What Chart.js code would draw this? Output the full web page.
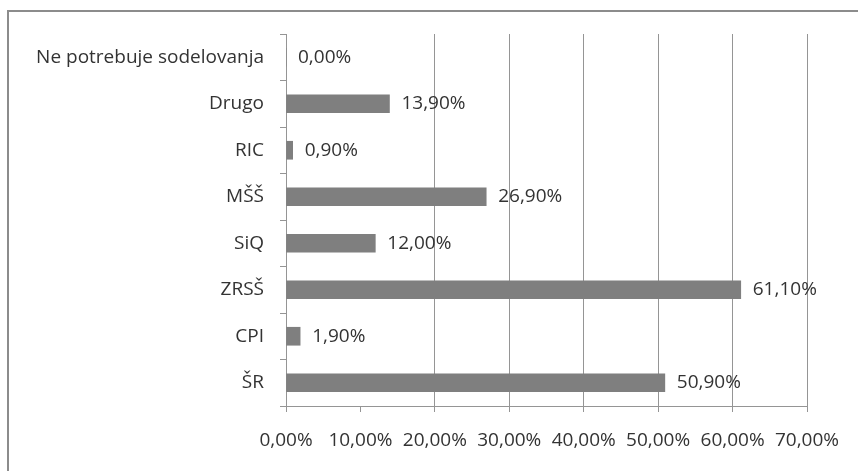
<!DOCTYPE html>
<html>
<head>
<meta charset="utf-8">
<script src="https://cdn.jsdelivr.net/npm/chart.js@4"></script>
<style>
  html, body { margin: 0; padding: 0; background: #ffffff; }
  #wrap { width: 858px; height: 471px; position: relative; }
</style>
</head>
<body>
<div id="wrap"><canvas id="c" width="858" height="471"></canvas></div>
<script>
const categories = ['Ne potrebuje sodelovanja', 'Drugo', 'RIC', 'MŠŠ', 'SiQ', 'ZRSŠ', 'CPI', 'ŠR'];
const values = [0, 13.9, 0.9, 26.9, 12.0, 61.1, 1.9, 50.9];
const xTickLabels = ['0,00%', '10,00%', '20,00%', '30,00%', '40,00%', '50,00%', '60,00%', '70,00%'];

const FONT = "'Open Sans', 'DejaVu Sans', sans-serif";
const TEXT = '#333333';
const LINE = '#959595';

function fmt(v) { return v.toFixed(2).replace('.', ',') + '%'; }

const frame = {
  id: 'frame',
  beforeDraw(chart) {
    const ctx = chart.ctx;
    ctx.save();
    ctx.strokeStyle = '#8c8c8c';
    ctx.lineWidth = 2;
    ctx.beginPath();
    ctx.moveTo(8, 471);
    ctx.lineTo(8, 11);
    ctx.lineTo(858, 11);
    ctx.stroke();
    ctx.restore();
  }
};

const valueLabels = {
  id: 'valueLabels',
  afterDatasetsDraw(chart) {
    const ctx = chart.ctx;
    const meta = chart.getDatasetMeta(0);
    ctx.save();
    ctx.font = '19px ' + FONT;
    ctx.fillStyle = TEXT;
    ctx.textAlign = 'left';
    ctx.textBaseline = 'middle';
    meta.data.forEach((bar, i) => {
      ctx.fillText(fmt(values[i]), bar.x + 12, bar.y);
    });
    ctx.restore();
  }
};

new Chart(document.getElementById('c'), {
  type: 'bar',
  data: {
    labels: categories,
    datasets: [{
      data: values,
      backgroundColor: '#7f7f7f',
      borderWidth: 0,
      barThickness: 18
    }]
  },
  options: {
    indexAxis: 'y',
    responsive: false,
    devicePixelRatio: 1,
    animation: false,
    layout: { padding: { left: 0, right: 51, top: 34, bottom: 0 } },
    plugins: { legend: { display: false }, tooltip: { enabled: false } },
    scales: {
      x: {
        min: 0, max: 70,
        ticks: {
          stepSize: 10,
          padding: 17,
          color: TEXT,
          font: { family: FONT, size: 19 },
          maxRotation: 0,
          callback: (v, i) => xTickLabels[i]
        },
        grid: {
          color: (c) => (c.tick && c.tick.value === 10) ? 'rgba(0,0,0,0)' : LINE,
          tickColor: LINE,
          tickLength: 6,
          lineWidth: 1
        },
        border: { display: true, color: LINE, width: 1 },
        afterFit: (s) => { s.height = 65; }
      },
      y: {
        ticks: {
          padding: 16,
          color: TEXT,
          font: { family: FONT, size: 19 }
        },
        grid: {
          offset: true,
          drawOnChartArea: false,
          tickColor: LINE,
          tickLength: 6
        },
        border: { display: true, color: LINE, width: 1 },
        afterFit: (s) => { s.width = 286; }
      }
    }
  },
  plugins: [frame, valueLabels]
});
</script>
</body>
</html>
